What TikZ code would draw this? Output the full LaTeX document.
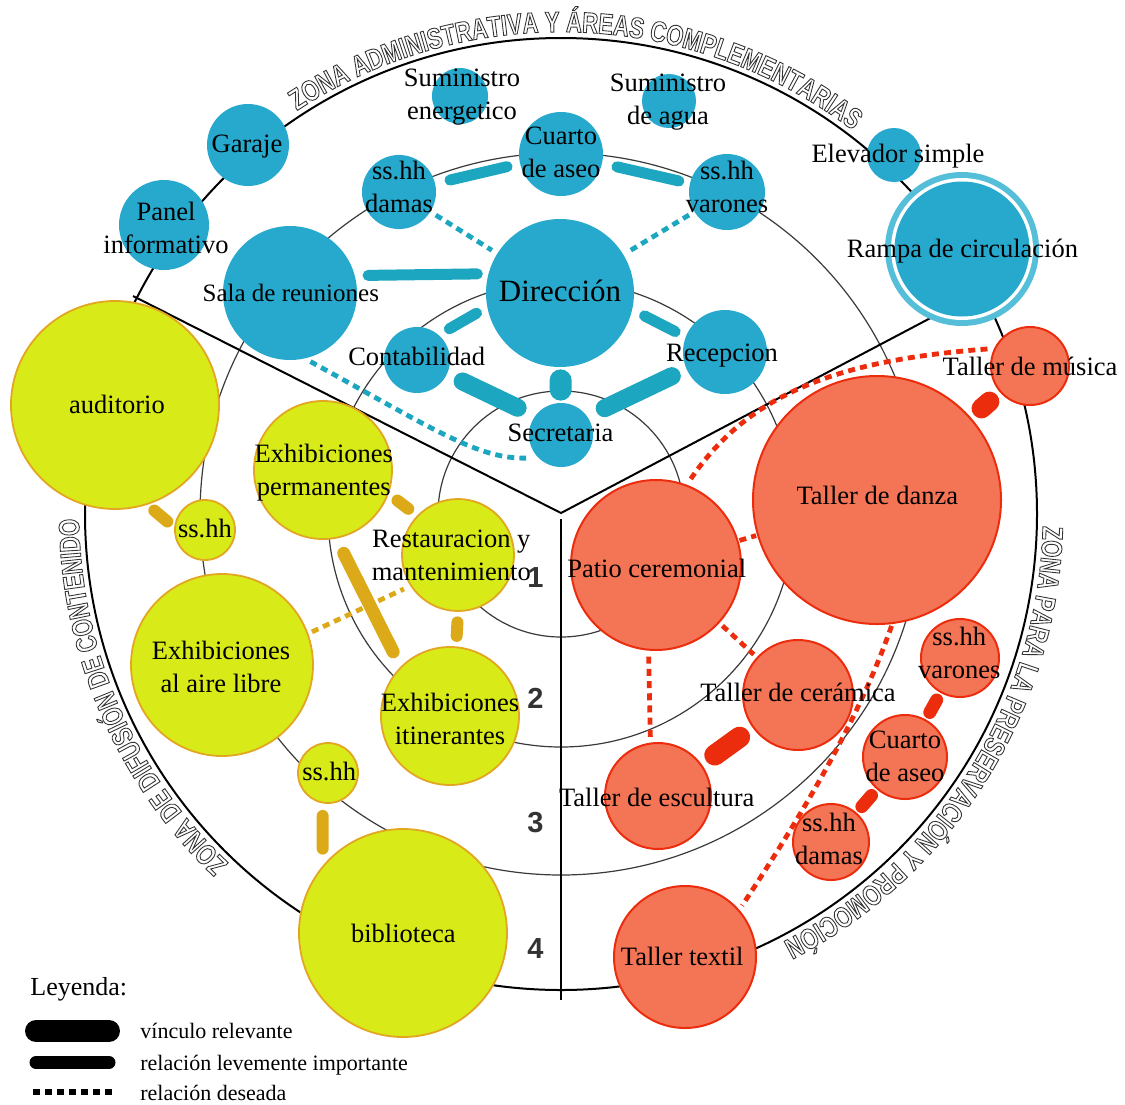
\documentclass[tikz,border=0pt]{standalone}
\usepackage{fontspec}
\setmainfont{Liberation Serif}
\newfontfamily\zonefont[FakeStretch=0.76, FakeBold=3]{Liberation Sans Bold}
\newfontfamily\numfont{Liberation Sans}
\usetikzlibrary{decorations.text}
\definecolor{nblue}{HTML}{27A9CD}
\definecolor{lblue}{HTML}{1CA6BF}
\definecolor{ringblue}{HTML}{55BFDA}
\definecolor{nred}{HTML}{F47456}
\definecolor{ered}{HTML}{EC2D0D}
\definecolor{nyel}{HTML}{D8EA17}
\definecolor{eyel}{HTML}{E2A622}
\definecolor{lyel}{HTML}{DCAA19}
\definecolor{zgray}{HTML}{333333}
\definecolor{ringline}{HTML}{3A3A3A}
\definecolor{numgray}{HTML}{333333}
\tikzset{
  bnode/.style={circle, fill=nblue, inner sep=0pt, minimum size=#1},
  ringnode/.style={circle, fill=ringblue, inner sep=0pt, minimum size=#1},
  rnode/.style={circle, fill=nred, draw=ered, line width=1pt, inner sep=0pt, minimum size=#1},
  ynode/.style={circle, fill=nyel, draw=eyel, line width=0.9pt, inner sep=0pt, minimum size=#1},
  lbl/.style={font=\fontsize{13.25}{16.5}\selectfont, inner sep=0pt, align=center},
  lblb/.style={lbl, anchor=base},
  thicklink/.style={line width=9pt, line cap=round},
  medlink/.style={line width=5.5pt, line cap=round},
  dotlink/.style={line width=2.4pt, dash pattern=on 3.5pt off 2.6pt},
  ringcirc/.style={draw=ringline, line width=0.6pt},
  zonetext/.style={decorate, decoration={text along path, text align=center, text={|\zonefont\fontsize{14.5}{14.5}\selectfont\pgfsetfillcolor{white}\pgfsetstrokecolor{zgray}|#1}}},
  legtext/.style={font=\fontsize{11}{13}\selectfont, anchor=base west, inner sep=0pt},
  numtext/.style={font=\numfont\bfseries\fontsize{14.5}{14.5}\selectfont, text=numgray, anchor=base, inner sep=0pt},
}
\begin{document}
\begin{tikzpicture}[x=0.5pt,y=0.5pt]
\fill[white] (0,0) rectangle (1125,-1104);
\useasboundingbox (0,0) rectangle (1125,-1104);
\coordinate (C) at (561,-514);
% concentric rings
\draw[ringcirc] (C) circle[radius=123];
\draw[ringcirc] (C) circle[radius=233];
\draw[ringcirc] (C) circle[radius=361];
\draw[line width=1pt] (C) circle[radius=476];
% zone dividers
\coordinate (V) at (561,-513);
\coordinate (YL) at (133,-296);
\coordinate (YR) at (940,-313);
\coordinate (YT) at (561,-519);
\coordinate (YB) at (561,-1000);
\draw[line width=1pt] (YL) -- (V) -- (YR);
\draw[line width=1pt] (YT) -- (YB);
% zone titles (outlined letters)
\path[zonetext={ZONA ADMINISTRATIVA Y ÁREAS COMPLEMENTARIAS}] ([shift={(130:482)}]C) arc[start angle=130, end angle=46, radius=482];
\path[zonetext={ZONA DE DIFUSIÓN DE CONTENIDO}] ([shift={(235:482)}]C) arc[start angle=235, end angle=172, radius=482];
\path[zonetext={ZONA PARA LA PRESERVACIÓN Y PROMOCIÓN}] ([shift={(5:482)}]C) arc[start angle=5, end angle=-69, radius=482];

% blue nodes
\node[bnode=28pt] (sume) at (460,-96) {};
\node[bnode=27pt] (suma) at (669,-101) {};
\node[bnode=41pt] (gar) at (248,-145) {};
\node[bnode=45pt] (pan) at (164,-225) {};
\node[bnode=37pt] (ssd) at (399,-192) {};
\node[bnode=42pt] (cua) at (561,-154) {};
\node[bnode=38pt] (ssv) at (727,-192) {};
\node[bnode=27pt] (elev) at (894,-155) {};
\node[ringnode=77pt] (rampa) at (962,-249) {};
\fill[white] (rampa.center) circle[radius=71];
\fill[nblue] (rampa.center) circle[radius=67.5];
\node[bnode=74pt] (dir) at (560,-293) {};
\node[bnode=67pt] (sala) at (290,-293) {};
\node[bnode=33pt] (cont) at (417,-360) {};
\node[bnode=42pt] (rec) at (725,-352) {};
\node[bnode=32pt] (sec) at (561,-435) {};
% red nodes
\node[rnode=39pt] (mus) at (1030,-366) {};
\node[rnode=124pt] (danza) at (877,-500) {};
\node[rnode=85pt] (patio) at (656,-565) {};
\node[rnode=55pt] (cer) at (798,-695) {};
\node[rnode=53pt] (esc) at (658,-796) {};
\node[rnode=71pt] (tex) at (685,-957) {};
\node[rnode=39pt] (rsv) at (960,-658) {};
\node[rnode=42pt] (rca) at (905,-757) {};
\node[rnode=38pt] (rsd) at (831,-842) {};
% yellow nodes
\node[ynode=104pt] (aud) at (115,-405) {};
\node[ynode=30pt] (ssa) at (205,-530) {};
\node[ynode=69pt] (perm) at (323,-470) {};
\node[ynode=56pt] (rest) at (458,-555) {};
\node[ynode=91pt] (aire) at (222,-665) {};
\node[ynode=69pt] (itin) at (450,-716) {};
\node[ynode=30pt] (ssb) at (328,-773) {};
\node[ynode=104pt] (bib) at (403,-933) {};

% blue connectors
\begin{scope}[draw=lblue]
\draw[medlink, shorten <=6.5pt, shorten >=5.4pt] (sala.15.6) -- (dir.165.9);
\draw[medlink, shorten <=7.5pt, shorten >=6.5pt] (ssd) -- (cua);
\draw[medlink, shorten <=7.5pt, shorten >=5.5pt] (cua) -- (ssv);
\draw[medlink, shorten <=6pt, shorten >=6pt] (cont.49) -- (dir.191);
\draw[medlink, shorten <=6.75pt, shorten >=5.75pt] (dir.-13) -- (rec.159);
\draw[thicklink, shorten <=8.5pt, shorten >=9.5pt] (cont.-25) -- (sec.144);
\draw[thicklink, shorten <=8pt, shorten >=9.5pt] (rec.204) -- (sec.35);
\draw[thicklink, line width=11pt, shorten <=6.5pt, shorten >=6.5pt] (dir) -- (sec);
\draw[dotlink, shorten <=3pt, shorten >=3pt] (ssd) -- (dir);
\draw[dotlink, shorten <=3pt, shorten >=3pt] (ssv) -- (dir);
\draw[dotlink, shorten <=3pt, shorten >=6pt] (sala.-77) .. controls (435,-430) and (478,-459) .. (sec.225);
\end{scope}
% red connectors
\begin{scope}[draw=ered]
\draw[thicklink, line width=10pt, shorten <=7pt, shorten >=7pt] (danza) -- (mus);
\draw[thicklink, line width=10.5pt, shorten <=8pt, shorten >=8pt] (esc) -- (cer);
\draw[medlink, line width=6.5pt, shorten <=4pt, shorten >=4pt] (rca) -- (rsv);
\draw[medlink, line width=6.5pt, shorten <=4pt, shorten >=4pt] (rca) -- (rsd);
\draw[dotlink, shorten <=3.5pt, shorten >=2.5pt] (patio.69) .. controls (750,-392) and (840,-360) .. (mus.154);
\draw[dotlink, shorten <=0.5pt, shorten >=0.5pt] (patio) -- (danza);
\draw[dotlink, shorten <=2pt, shorten >=2pt] (patio) -- (cer);
\draw[dotlink, shorten <=3pt, shorten >=2.5pt] (patio.265) -- (esc.98);
\draw[dotlink, shorten <=1pt, shorten >=2.5pt] (danza.-83) .. controls (858,-722) and (800,-818) .. (tex.41);
\end{scope}
% yellow connectors
\begin{scope}[draw=lyel]
\draw[medlink, line width=6pt, shorten <=4.5pt, shorten >=4.5pt] (aud.-72) -- (ssa.175);
\draw[medlink, line width=6pt, shorten <=5.5pt, shorten >=5.5pt] (perm.-20) -- (rest.136);
\draw[medlink, line width=6.5pt, shorten <=8.25pt, shorten >=8.25pt] (perm.-79) -- (itin.135);
\draw[medlink, line width=6pt, shorten <=5.25pt, shorten >=5.25pt] (rest.-90) -- (itin.85);
\draw[medlink, line width=6pt, shorten <=6.25pt, shorten >=8.5pt] (ssb.260) -- (bib.140);
\draw[dotlink, shorten <=2pt, shorten >=3.5pt] (aire.20) -- (rest.213);
\end{scope}

% labels (single line, on baseline)
\node[lblb] (t-gar) at (247,-152) {Garaje};
\node[lblb, font=\fontsize{12.5}{15}\selectfont] (t-sala) at (290.8,-301.7) {Sala de reuniones};
\node[lblb, font=\fontsize{15.5}{18}\selectfont] (t-dir) at (560,-301.7) {Dirección};
\node[lblb] (t-cont) at (416.7,-365) {Contabilidad};
\node[lblb] (t-sec) at (560.5,-441.7) {Secretaria};
\node[lblb] (t-rec) at (722,-361.7) {Recepcion};
\node[lblb] (t-elev) at (898,-162) {Elevador simple};
\node[lblb] (t-rampa) at (962.5,-257) {Rampa de circulación};
\node[lblb] (t-mus) at (1030,-375) {Taller de música};
\node[lblb] (t-danza) at (877.3,-504) {Taller de danza};
\node[lblb] (t-patio) at (656.7,-577.3) {Patio ceremonial};
\node[lblb] (t-cer) at (798,-701.7) {Taller de cerámica};
\node[lblb] (t-esc) at (656.7,-806.7) {Taller de escultura};
\node[lblb] (t-tex) at (682.2,-965) {Taller textil};
\node[lblb] (t-aud) at (117,-413.3) {auditorio};
\node[lblb] (t-ssa) at (205,-537.3) {ss.hh};
\node[lblb] (t-ssb) at (329.2,-780) {ss.hh};
\node[lblb] (t-bib) at (403.3,-942.7) {biblioteca};
% labels (two lines, centred)
\node[lbl] (t-sume) at (462,-97) {Suministro\\energetico};
\node[lbl] (t-suma) at (668,-102) {Suministro\\de agua};
\node[lbl] (t-pan) at (166,-228) {Panel\\informativo};
\node[lbl] (t-ssd) at (399,-187.4) {ss.hh\\damas};
\node[lbl] (t-cua) at (561,-152.4) {Cuarto\\de aseo};
\node[lbl] (t-ssv) at (727,-187.4) {ss.hh\\varones};
\node[lbl] (t-rsv) at (959.3,-653) {ss.hh\\varones};
\node[lbl] (t-rca) at (905,-756.7) {Cuarto\\de aseo};
\node[lbl] (t-rsd) at (829,-839) {ss.hh\\damas};
\node[lbl] (t-perm) at (323.8,-473) {Exhibiciones\\permanentes};
\node[lbl] (t-rest) at (451.3,-555.7) {Restauracion y\\mantenimiento};
\node[lbl] (t-aire) at (221,-667.4) {Exhibiciones\\al aire libre};
\node[lbl] (t-itin) at (450,-719) {Exhibiciones\\itinerantes};

% ring numbers
\node[numtext] (n1) at (535.5,-587) {1};
\node[numtext] (n2) at (535.5,-708) {2};
\node[numtext] (n3) at (535.5,-832) {3};
\node[numtext] (n4) at (535.5,-958) {4};

% legend
\node[lbl, anchor=base west, font=\fontsize{13}{15}\selectfont] (leg) at (30,-995) {Leyenda:};
\coordinate (la1) at (36,-1031);
\coordinate (la2) at (109,-1031);
\coordinate (lb1) at (36,-1062.5);
\coordinate (lb2) at (109,-1062.5);
\coordinate (lc1) at (33,-1092);
\coordinate (lc2) at (115,-1092);
\draw[line width=11pt, line cap=round] (la1) -- (la2);
\draw[line width=6.5pt, line cap=round] (lb1) -- (lb2);
\draw[line width=3pt, dash pattern=on 3.5pt off 2.5pt] (lc1) -- (lc2);
\node[legtext] (lg1) at (140,-1038.3) {vínculo relevante};
\node[legtext] (lg2) at (140,-1070) {relación levemente importante};
\node[legtext] (lg3) at (140,-1100) {relación deseada};
\end{tikzpicture}
\end{document}
